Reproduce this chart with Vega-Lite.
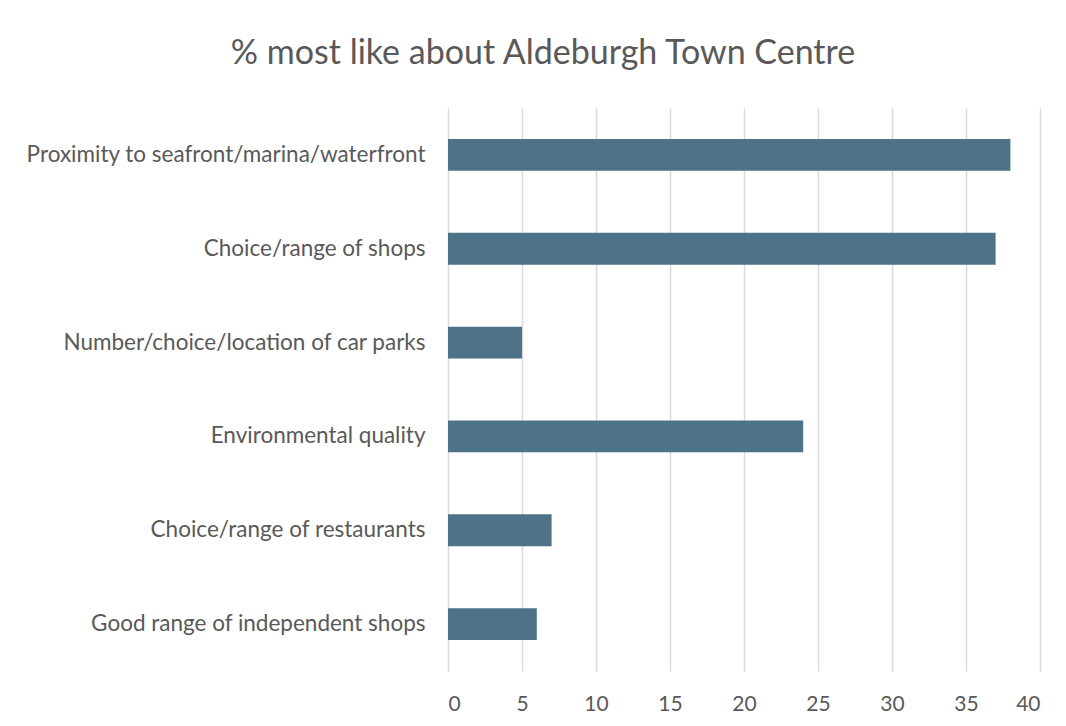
{
  "$schema": "https://vega.github.io/schema/vega-lite/v6.json",
  "autosize": "none",
  "width": 592,
  "height": 563,
  "padding": {"left": 448, "top": 108, "right": 26, "bottom": 55},
  "background": "white",
  "title": {
    "text": "% most like about Aldeburgh Town Centre",
    "font": "Lato",
    "fontSize": 34,
    "fontWeight": "normal",
    "color": "#595959",
    "anchor": "middle",
    "dx": -201,
    "offset": 37
  },
  "data": {
    "values": [
      {"item": "Proximity to seafront/marina/waterfront", "pct": 38},
      {"item": "Choice/range of shops", "pct": 37},
      {"item": "Number/choice/location of car parks", "pct": 5},
      {"item": "Environmental quality", "pct": 24},
      {"item": "Choice/range of restaurants", "pct": 7},
      {"item": "Good range of independent shops", "pct": 6}
    ]
  },
  "mark": {"type": "bar", "color": "#4e7388"},
  "encoding": {
    "y": {
      "field": "item",
      "type": "nominal",
      "sort": null,
      "title": null,
      "scale": {"paddingInner": 0.66, "paddingOuter": 0.33},
      "axis": {
        "domain": false,
        "ticks": false,
        "grid": false,
        "labelFont": "Lato",
        "labelFontSize": 22.5,
        "labelColor": "#595959",
        "labelPadding": 23,
        "labelLimit": 500
      }
    },
    "x": {
      "field": "pct",
      "type": "quantitative",
      "title": null,
      "scale": {"domain": [0, 40], "nice": false},
      "axis": {
        "values": [0, 5, 10, 15, 20, 25, 30, 35, 40],
        "domain": false,
        "ticks": false,
        "grid": true,
        "gridColor": "#d9d9d9",
        "gridWidth": 1.5,
        "labelFont": "Lato",
        "labelFontSize": 21,
        "labelColor": "#595959",
        "labelPadding": 22
      }
    }
  },
  "config": {"view": {"stroke": null}}
}
